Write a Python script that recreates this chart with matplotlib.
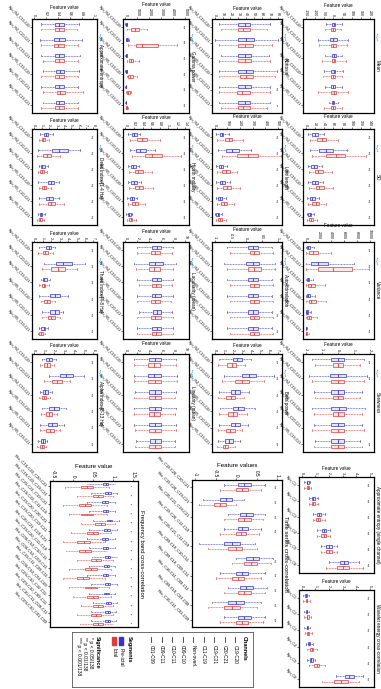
import matplotlib
matplotlib.use('Agg')
import matplotlib.pyplot as plt
from matplotlib.colors import to_rgba
from matplotlib.transforms import blended_transform_factory
from matplotlib.patches import Rectangle

plt.rcParams['font.family'] = ['Liberation Sans', 'DejaVu Sans']

# ---------------- data ----------------
single_labels = ['Ryu_R4_C19-C20', 'Ryu_R4_C20-C21', 'Ryu_R4_C19-C21',
                 'Ryu_R5_C19-C20', 'Ryu_R5_C20-C21', 'Ryu_R5_C19-C21']
stars6 = ['***', '***', '***', '***', '***', '***']

# box stats rows: [whisker_low, q1, median, q3, whisker_high]
apen_pre = [[0.12, 0.35, 0.42, 0.50, 0.75], [0.10, 0.34, 0.42, 0.52, 0.80], [0.12, 0.35, 0.42, 0.50, 0.78],
            [0.15, 0.36, 0.44, 0.50, 0.76], [0.12, 0.35, 0.42, 0.50, 0.74], [0.14, 0.36, 0.42, 0.50, 0.74]]
apen_ict = [[0.12, 0.35, 0.42, 0.50, 0.72], [0.12, 0.34, 0.40, 0.50, 0.74], [0.14, 0.35, 0.42, 0.50, 0.74],
            [0.12, 0.35, 0.42, 0.50, 0.74], [0.14, 0.38, 0.44, 0.52, 0.82], [0.12, 0.35, 0.42, 0.50, 0.74]]
delta_pre = [[0.8, 1.3, 1.6, 1.9, 2.5], [0.5, 2.4, 3.3, 4.5, 6.2], [0.6, 0.9, 1.1, 1.4, 1.8],
             [0.5, 1.8, 2.2, 2.6, 3.4], [0.6, 1.6, 2.0, 2.5, 3.3], [0.5, 0.7, 0.9, 1.1, 1.4]]
delta_ict = [[0.6, 1.0, 1.2, 1.5, 2.0], [0.3, 1.2, 1.7, 2.2, 3.5], [0.5, 0.8, 1.0, 1.3, 1.7],
             [0.6, 1.0, 1.3, 1.6, 2.2], [0.6, 1.8, 2.3, 2.8, 4.0], [0.4, 0.6, 0.8, 1.0, 1.3]]
theta_pre = [[0.6, 1.4, 1.7, 2.0, 2.4], [1.2, 2.6, 3.4, 4.4, 6.0], [0.8, 1.0, 1.2, 1.5, 1.9],
             [0.6, 1.8, 2.5, 3.0, 4.0], [0.9, 1.9, 2.4, 2.9, 3.4], [0.5, 0.8, 1.1, 1.3, 1.6]]
theta_ict = [[0.4, 1.0, 1.3, 1.6, 2.2], [0.9, 2.0, 2.8, 3.6, 5.0], [0.6, 0.9, 1.1, 1.3, 1.7],
             [0.8, 1.2, 1.5, 1.9, 2.4], [0.9, 1.6, 2.0, 2.5, 3.0], [0.4, 0.6, 0.8, 1.0, 1.3]]
alpha_pre = [[0.8, 1.2, 1.5, 1.8, 2.2], [1.5, 2.6, 3.2, 3.9, 5.0], [0.6, 0.9, 1.1, 1.4, 1.8],
             [0.8, 1.5, 2.0, 2.5, 3.2], [0.6, 1.4, 1.8, 2.3, 3.0], [0.4, 0.7, 0.9, 1.1, 1.3]]
alpha_ict = [[0.6, 1.0, 1.3, 1.6, 2.0], [1.0, 1.8, 2.3, 2.8, 3.6], [0.5, 0.8, 1.0, 1.2, 1.6],
             [0.7, 1.2, 1.5, 1.8, 2.3], [0.6, 1.2, 1.6, 2.0, 2.6], [0.3, 0.6, 0.8, 1.0, 1.2]]

gamma_pre = [[0, 50, 80, 110, 160], [20, 80, 130, 180, 280], [0, 40, 70, 100, 140],
             [0, 40, 70, 100, 150], [0, 20, 40, 60, 80], [0, 10, 20, 30, 40]]
gamma_ict = [[150, 500, 800, 1100, 1800], [200, 900, 1400, 2700, 4300], [100, 300, 450, 650, 1100],
             [100, 250, 400, 600, 1000], [50, 150, 250, 350, 500], [20, 60, 100, 150, 220]]
mob_pre = [[0.05, 0.15, 0.20, 0.26, 0.35], [0.10, 0.25, 0.35, 0.48, 0.70], [0.05, 0.12, 0.18, 0.24, 0.32],
           [0.05, 0.14, 0.20, 0.26, 0.36], [0.04, 0.10, 0.15, 0.20, 0.28], [0.02, 0.06, 0.09, 0.12, 0.16]]
mob_ict = [[0.10, 0.28, 0.38, 0.50, 0.80], [0.15, 0.45, 0.62, 0.85, 1.30], [0.08, 0.22, 0.30, 0.40, 0.62],
           [0.08, 0.22, 0.32, 0.42, 0.65], [0.05, 0.15, 0.22, 0.30, 0.45], [0.03, 0.08, 0.12, 0.16, 0.24]]
comp_pre = [[2.0, 4.5, 5.2, 6.0, 8.0], [1.5, 4.0, 5.0, 6.2, 8.5], [2.0, 4.5, 5.2, 6.0, 8.0],
            [2.0, 4.4, 5.0, 6.0, 8.0], [2.2, 4.6, 5.3, 6.0, 7.8], [2.0, 4.5, 5.2, 6.0, 8.0]]
comp_ict = [[2.0, 4.2, 5.0, 5.8, 7.8], [1.8, 4.0, 4.8, 5.8, 8.0], [2.2, 4.4, 5.1, 5.9, 7.8],
            [2.0, 4.2, 5.0, 5.8, 7.6], [2.0, 4.3, 5.0, 5.9, 7.9], [2.0, 4.4, 5.1, 6.0, 8.0]]
nle_pre = [[1.5, 4.0, 5.0, 6.0, 8.5], [1.5, 3.8, 4.8, 6.0, 8.6], [1.6, 4.0, 5.0, 6.0, 8.4],
           [1.5, 4.0, 5.0, 6.0, 8.5], [1.5, 4.0, 5.0, 6.0, 8.5], [1.8, 4.1, 5.0, 6.0, 8.2]]
nle_ict = [[1.5, 3.8, 4.8, 5.8, 8.4], [1.4, 3.8, 4.9, 6.0, 8.6], [1.5, 3.9, 4.9, 5.9, 8.3],
           [1.5, 3.9, 4.8, 5.8, 8.2], [1.6, 4.0, 5.0, 6.0, 8.5], [1.6, 4.0, 5.0, 6.0, 8.3]]

kurt_pre = [[5, 30, 38, 45, 70], [0, 30, 40, 50, 80], [8, 30, 38, 46, 68],
            [5, 30, 40, 48, 78], [5, 30, 38, 46, 70], [5, 30, 38, 45, 70]]
kurt_ict = [[8, 30, 36, 44, 66], [5, 30, 38, 48, 72], [5, 30, 38, 46, 70],
            [5, 32, 40, 48, 76], [5, 28, 35, 44, 70], [8, 30, 36, 44, 66]]
ll_pre = [[10, 40, 55, 70, 110], [30, 90, 140, 190, 290], [10, 35, 50, 65, 100],
          [15, 45, 60, 80, 120], [10, 30, 45, 60, 90], [5, 15, 25, 35, 55]]
ll_ict = [[20, 80, 110, 140, 220], [60, 180, 260, 340, 520], [20, 60, 90, 120, 180],
          [20, 70, 100, 130, 200], [20, 50, 75, 100, 150], [10, 30, 45, 60, 90]]
ac_pre = [[-0.6, 0.05, 0.2, 0.35, 0.8], [-0.7, 0.0, 0.2, 0.4, 0.9], [-0.6, 0.05, 0.2, 0.35, 0.8],
          [-0.6, 0.05, 0.2, 0.35, 0.8], [-0.6, 0.05, 0.2, 0.35, 0.8], [-0.6, 0.05, 0.2, 0.35, 0.8]]
ac_ict = [[-0.5, 0.1, 0.25, 0.4, 0.85], [-0.6, 0.05, 0.25, 0.45, 0.9], [-0.5, 0.1, 0.25, 0.4, 0.85],
          [-0.5, 0.1, 0.25, 0.4, 0.85], [-0.5, 0.1, 0.25, 0.4, 0.85], [-0.5, 0.1, 0.25, 0.4, 0.85]]
beta_pre = [[0.5, 2.0, 2.5, 3.0, 4.0], [1.0, 3.0, 3.8, 4.6, 6.5], [0.5, 1.8, 2.3, 2.8, 3.8],
            [0.6, 2.0, 2.6, 3.2, 4.4], [0.5, 1.8, 2.3, 2.8, 3.7], [0.4, 1.2, 1.6, 2.0, 2.8]]
beta_ict = [[0.4, 1.4, 1.9, 2.4, 3.4], [0.8, 2.2, 3.0, 3.8, 5.4], [0.4, 1.3, 1.8, 2.3, 3.2],
            [0.5, 1.5, 2.0, 2.5, 3.6], [0.4, 1.3, 1.7, 2.2, 3.0], [0.3, 0.9, 1.2, 1.5, 2.2]]

mean_pre = [[-40, -8, 2, 12, 45], [-85, -20, 0, 20, 80], [-45, -8, 3, 15, 50],
            [-50, -10, 2, 12, 55], [-45, -10, 0, 10, 45], [-25, -6, 0, 6, 25]]
mean_ict = [[-45, -10, 0, 8, 40], [-75, -12, 0, 15, 75], [-60, -8, 2, 12, 70],
            [-55, -10, 0, 10, 50], [-80, -12, 2, 15, 80], [-50, -10, -2, 10, 45]]
std_pre = [[5, 15, 20, 26, 40], [10, 30, 45, 60, 90], [5, 12, 18, 24, 35],
           [5, 14, 20, 26, 38], [4, 10, 15, 20, 30], [2, 6, 9, 12, 18]]
std_ict = [[10, 25, 35, 45, 70], [15, 45, 65, 85, 130], [8, 20, 28, 38, 58],
           [8, 22, 30, 40, 60], [6, 15, 22, 30, 45], [3, 8, 12, 16, 24]]
var_pre = [[10, 200, 400, 650, 1300], [50, 800, 2000, 3500, 7500], [10, 150, 320, 550, 1100],
           [10, 200, 400, 700, 1400], [10, 100, 220, 400, 800], [5, 40, 80, 140, 280]]
var_ict = [[50, 600, 1200, 2000, 4000], [100, 2000, 4200, 7200, 9800], [40, 400, 800, 1400, 3000],
           [40, 500, 900, 1600, 3200], [20, 250, 500, 900, 1800], [10, 60, 140, 250, 500]]
skew_pre = [[-1.6, -0.4, 0.0, 0.4, 1.6], [-1.8, -0.5, 0.0, 0.5, 1.8], [-1.5, -0.4, 0.0, 0.4, 1.5],
            [-1.6, -0.4, 0.1, 0.5, 1.7], [-1.5, -0.4, 0.0, 0.4, 1.5], [-1.4, -0.4, 0.0, 0.4, 1.4]]
skew_ict = [[-1.4, -0.3, 0.0, 0.3, 1.4], [-1.6, -0.4, 0.0, 0.4, 1.6], [-1.4, -0.3, 0.0, 0.3, 1.4],
            [-1.5, -0.3, 0.0, 0.4, 1.5], [-1.6, -0.4, 0.0, 0.4, 1.6], [-1.5, -0.4, 0.0, 0.4, 1.5]]

fb_labels = ['Rcx_C19-C20_C20-C21', 'Rcx_C19-C20_C19-C21', 'Rcx_C20-C21_C19-C21', 'Rcx_C19-C20_C11-C19',
             'Scx_C19-C20_C20-C21', 'Scx_C19-C20_C19-C21', 'Scx_C20-C21_C19-C21', 'Scx_C19-C20_C11-C19',
             'Rcx_C09-C10_C10-C11', 'Rcx_C09-C10_C09-C11', 'Rcx_C10-C11_C09-C11', 'Rcx_C09-C10_C01-C09',
             'Scx_C09-C10_C10-C11', 'Scx_C09-C10_C09-C11', 'Scx_C10-C11_C09-C11', 'Scx_C09-C10_C01-C09']
fb_pre = [[0.35, 0.75, 0.82, 0.88, 1.05], [0.45, 0.8, 0.88, 0.94, 1.1], [0.35, 0.72, 0.8, 0.87, 1.05],
          [0.4, 0.75, 0.82, 0.88, 1.05], [0.5, 0.85, 0.92, 0.98, 1.15], [0.4, 0.78, 0.85, 0.92, 1.1],
          [0.35, 0.72, 0.8, 0.87, 1.05], [0.4, 0.74, 0.82, 0.88, 1.05], [0.45, 0.8, 0.87, 0.93, 1.1],
          [0.4, 0.76, 0.84, 0.9, 1.05], [0.35, 0.74, 0.82, 0.88, 1.05], [0.45, 0.8, 0.87, 0.93, 1.1],
          [0.4, 0.76, 0.83, 0.9, 1.05], [0.5, 0.82, 0.88, 0.94, 1.1], [0.45, 0.8, 0.86, 0.92, 1.08],
          [0.45, 0.8, 0.86, 0.92, 1.08]]
fb_ict = [[-0.2, 0.2, 0.35, 0.5, 0.9], [0.1, 0.5, 0.62, 0.75, 1.0], [-0.25, 0.15, 0.3, 0.45, 0.85],
          [-0.1, 0.2, 0.35, 0.5, 0.85], [0.2, 0.55, 0.7, 0.8, 1.05], [-0.05, 0.35, 0.5, 0.62, 0.95],
          [-0.25, 0.1, 0.28, 0.42, 0.8], [-0.2, 0.15, 0.3, 0.45, 0.85], [0.1, 0.45, 0.58, 0.7, 1.0],
          [-0.1, 0.3, 0.45, 0.6, 0.95], [-0.25, 0.1, 0.25, 0.4, 0.8], [-0.1, 0.3, 0.45, 0.6, 0.9],
          [0.0, 0.35, 0.5, 0.62, 0.95], [0.2, 0.5, 0.62, 0.74, 1.0], [0.1, 0.45, 0.58, 0.7, 1.0],
          [0.15, 0.5, 0.62, 0.74, 1.0]]
fb_stars = ['*', '*', '*', '*', '*', '*', '*', '*', '*', '*', '*', '*', '*', '*', '*', '*']

ts_labels = ['Rxx_C19-C20_C20-C21', 'Rxx_C19-C20_C19-C21', 'Rxx_C20-C21_C19-C21', 'Rxx_C19-C20_C11-C19',
             'Rxx_C20-C21_C11-C19', 'Rxx_C09-C10_C10-C11', 'Rxx_C09-C10_C09-C11', 'Rxx_C10-C11_C09-C11',
             'Rxx_C09-C10_C01-C09', 'Rxx_C10-C11_C01-C09']
ts_pre = [[-0.3, 0.05, 0.2, 0.35, 0.7], [-0.8, -0.4, -0.25, -0.1, 0.2], [-0.2, 0.1, 0.25, 0.4, 0.7],
          [-0.3, 0.05, 0.15, 0.3, 0.6], [-0.9, -0.3, -0.1, 0.1, 0.45], [0.0, 0.25, 0.4, 0.55, 0.9],
          [-0.4, 0.0, 0.15, 0.3, 0.7], [-0.2, 0.1, 0.25, 0.4, 0.75], [-0.6, -0.2, 0.0, 0.2, 0.6],
          [-0.3, 0.05, 0.2, 0.35, 0.7]]
ts_ict = [[-0.4, 0.0, 0.15, 0.3, 0.6], [-0.9, -0.55, -0.4, -0.25, 0.0], [-0.3, 0.05, 0.2, 0.35, 0.65],
          [-0.4, 0.0, 0.12, 0.25, 0.55], [-0.7, -0.2, 0.0, 0.15, 0.5], [-0.1, 0.2, 0.35, 0.5, 0.85],
          [-0.5, -0.1, 0.05, 0.2, 0.6], [-0.3, 0.05, 0.2, 0.35, 0.7], [-0.7, -0.3, -0.1, 0.1, 0.5],
          [-0.4, 0.0, 0.15, 0.3, 0.65]]
ts_stars = ['***', '***', '***', '***', '', '***', '***', '***', '***', '***']

short_labels = ['Ryu_C1', 'Ryu_C2', 'Ryu_C3', 'Ryu_C4', 'Ryu_C5', 'Ryu_C6']
apsc_pre = [[0.2, 0.35, 0.42, 0.5, 0.62], [0.5, 0.75, 0.85, 0.95, 1.2], [0.8, 1.1, 1.25, 1.4, 1.7],
            [1.1, 1.45, 1.6, 1.75, 2.1], [1.4, 1.8, 2.0, 2.2, 2.6], [2.0, 2.8, 3.1, 3.4, 4.2]]
apsc_ict = [[0.2, 0.35, 0.45, 0.52, 0.65], [0.5, 0.75, 0.85, 0.98, 1.2], [0.8, 1.05, 1.2, 1.35, 1.7],
            [1.1, 1.4, 1.6, 1.75, 2.1], [1.4, 1.8, 2.0, 2.2, 2.6], [1.8, 2.6, 3.0, 3.5, 4.5]]
wv_pre = [[0.1, 0.25, 0.3, 0.36, 0.5], [0.15, 0.3, 0.35, 0.42, 0.55], [0.2, 0.35, 0.4, 0.47, 0.6],
          [0.3, 0.45, 0.55, 0.62, 0.8], [0.4, 0.6, 0.7, 0.8, 1.0], [2.5, 3.2, 3.5, 3.8, 4.5]]
wv_ict = [[0.1, 0.28, 0.35, 0.42, 0.6], [0.2, 0.35, 0.42, 0.5, 0.7], [0.25, 0.4, 0.48, 0.56, 0.75],
          [0.4, 0.6, 0.72, 0.85, 1.1], [0.5, 0.9, 1.1, 1.3, 1.7], [1.5, 2.4, 2.9, 3.4, 4.2]]

legend_channels = ['C19-C20', 'C20-C21', 'C19-C21', 'C11-C19', 'Non-overl.',
                   'C09-C10', 'C10-C11', 'C09-C11', 'C01-C09']
legend_segments = ['Pre-ictal', 'Ictal']
legend_sig = ['* p < 0.05/138', '** p < 0.01/138', '*** p < 0.001/138']

# ---------------- drawing ----------------
W, H = 381, 689
fig = plt.figure(figsize=(3.81, 6.89), dpi=100)
BLUE = '#3434d4'
RED = '#e23b3b'
BRACE = '#45a7d9'


def rect(x0, y0, x1, y1):
    return [x0 / W, 1 - y1 / H, (x1 - x0) / W, (y1 - y0) / H]


def stats(row):
    lo, q1, med, q3, hi = row
    return dict(whislo=lo, q1=q1, med=med, q3=q3, whishi=hi, fliers=[])


def panel(r, labels, pre, ict, title, xticks, stars, xlab='Feature value',
          fs=2.6, lab_fs=2.6, title_fs=3.3, brace=True, lw_frame=0.9, xlab_fs=3.3):
    ax = fig.add_axes(rect(*r))
    n = len(labels)
    off = 0.17
    for data, c, sgn in ((pre, BLUE, -1), (ict, RED, 1)):
        ax.bxp([stats(d) for d in data], positions=[i + sgn * off for i in range(n)],
               orientation='horizontal', widths=0.2, patch_artist=True, showfliers=False,
               boxprops=dict(facecolor=to_rgba(c, 0.12), edgecolor=c, linewidth=0.5),
               whiskerprops=dict(color=c, linewidth=0.45, linestyle=(0, (1.5, 1))),
               capprops=dict(color=c, linewidth=0.45),
               medianprops=dict(color=c, linewidth=0.6))
    ax.set_ylim(n - 0.5, -0.5)
    ax.set_yticks(range(n))
    ax.set_yticklabels(labels, rotation=-45, ha='right', rotation_mode='anchor', fontsize=lab_fs)
    ax.xaxis.tick_top()
    ax.xaxis.set_label_position('top')
    ax.set_xlabel(xlab, fontsize=xlab_fs, labelpad=1.0)
    ax.set_xticks(xticks)
    ax.set_xticklabels([f'{t:g}' for t in xticks], rotation=270, fontsize=fs)
    span = xticks[-1] - xticks[0]
    ax.set_xlim(xticks[0] - 0.04 * span, xticks[-1] + 0.06 * span)
    ax.tick_params(length=1.5, width=0.4, pad=0.8)
    for s in ax.spines.values():
        s.set_linewidth(lw_frame)
    ax.text(1.012, 0.5, title, rotation=270, transform=ax.transAxes, va='center', ha='left',
            fontsize=title_fs)
    tr = blended_transform_factory(ax.transAxes, ax.transData)
    for i, s in enumerate(stars):
        if s:
            ax.text(0.9, i, s, transform=tr, rotation=270, fontsize=2.6, va='center', ha='center')
    if brace:
        ax.text(1.03, 0.8, '{', transform=ax.transAxes, color=BRACE, fontsize=5,
                va='center', ha='left')
    return ax


cols = [(32, 97), (123, 189), (212, 282), (303, 374)]
rows = [(19, 113), (129, 225), (242, 339), (354, 452)]

panel((cols[0][0], rows[0][0], cols[0][1], rows[0][1]), single_labels, apen_pre, apen_ict,
      'Approximate entropy', [0, 0.2, 0.4, 0.6, 0.8, 1.0], ['', '', '', '', '', ''])
panel((cols[0][0], rows[1][0], cols[0][1], rows[1][1]), single_labels, delta_pre, delta_ict,
      'Delta index [1-4 Hz]', [0, 1, 2, 3, 4, 5, 6, 7, 8], stars6)
panel((cols[0][0], rows[2][0], cols[0][1], rows[2][1]), single_labels, theta_pre, theta_ict,
      'Theta index [4-8 Hz]', [0, 1, 2, 3, 4, 5, 6, 7], stars6)
panel((cols[0][0], rows[3][0], cols[0][1], rows[3][1]), single_labels, alpha_pre, alpha_ict,
      'Alpha index [8-13 Hz]', [0, 1, 2, 3, 4, 5, 6], stars6)

panel((cols[1][0], rows[0][0], cols[1][1], rows[0][1]), single_labels, gamma_pre, gamma_ict,
      'Gamma power', [0, 1000, 2000, 3000, 4000, 5000], stars6)
panel((cols[1][0], rows[1][0], cols[1][1], rows[1][1]), single_labels, mob_pre, mob_ict,
      'Hjorth mobility', [0, 0.2, 0.4, 0.6, 0.8, 1.0, 1.2, 1.4], stars6)
panel((cols[1][0], rows[2][0], cols[1][1], rows[2][1]), single_labels, comp_pre, comp_ict,
      'Lacunarity (mean)', [0, 2, 4, 6, 8, 10], ['', '', '', '', '', ''])
panel((cols[1][0], rows[3][0], cols[1][1], rows[3][1]), single_labels, nle_pre, nle_ict,
      'Linearity (mean)', [0, 2, 4, 6, 8, 10], ['', '', '', '', '', ''])

panel((cols[2][0], rows[0][0], cols[2][1], rows[0][1]), single_labels, kurt_pre, kurt_ict,
      'Kurtosis', [0, 10, 20, 30, 40, 50, 60, 70, 80], ['', '', '', '', '***', '**'])
panel((cols[2][0], rows[1][0], cols[2][1], rows[1][1]), single_labels, ll_pre, ll_ict,
      'Line length', [0, 100, 200, 300, 400, 500], stars6)
panel((cols[2][0], rows[2][0], cols[2][1], rows[2][1]), single_labels, ac_pre, ac_ict,
      'Auto-correlation', [-1, -0.5, 0, 0.5, 1], ['', '', '', '', '***', '***'])
panel((cols[2][0], rows[3][0], cols[2][1], rows[3][1]), single_labels, beta_pre, beta_ict,
      'Beta power', [0, 1, 2, 3, 4, 5, 6, 7], stars6)

panel((cols[3][0], rows[0][0], cols[3][1], rows[0][1]), single_labels, mean_pre, mean_ict,
      'Mean', [-150, -100, -50, 0, 50, 100, 150, 200], ['', '', '', '', '', ''])
panel((cols[3][0], rows[1][0], cols[3][1], rows[1][1]), single_labels, std_pre, std_ict,
      'SD', [0, 20, 40, 60, 80, 100, 120, 140], stars6)
panel((cols[3][0], rows[2][0], cols[3][1], rows[2][1]), single_labels, var_pre, var_ict,
      'Variance', [0, 2000, 4000, 6000, 8000, 10000], stars6)
panel((cols[3][0], rows[3][0], cols[3][1], rows[3][1]), single_labels, skew_pre, skew_ict,
      'Skewness', [-2, -1, 0, 1, 2], ['***', '***', '', '', '', '***'])

panel((50, 481, 138, 627), fb_labels, fb_pre, fb_ict, 'Frequency band cross-correlation',
      [-0.5, 0, 0.5, 1, 1.5], fb_stars, fs=3.4, lab_fs=3.0, title_fs=4.2, brace=False, xlab_fs=4.4)
panel((192, 480, 282, 627), ts_labels, ts_pre, ts_ict, 'Time series cross-correlation',
      [-1, -0.5, 0, 0.5, 1], ts_stars, xlab='Feature values', fs=3.4, lab_fs=2.9,
      title_fs=4.2, brace=False, xlab_fs=4.4)
panel((299, 477, 374, 573), short_labels, apsc_pre, apsc_ict,
      'Approximate entropy (single channel)', [0, 1, 2, 3, 4, 5], stars6, brace=False)
panel((299, 590, 374, 687), short_labels, wv_pre, wv_ict,
      'Wavelet energy cross-correlation', [0, 1, 2, 3, 4, 5], stars6, brace=False)

# ---------------- legend (rotated) ----------------
lax = fig.add_axes(rect(72, 632, 253, 687))
lax.set_xlim(72, 253)
lax.set_ylim(687, 632)
lax.set_xticks([])
lax.set_yticks([])
for s in lax.spines.values():
    s.set_linewidth(0.6)
    s.set_color('#555555')
lax.text(244, 636, 'Channels', rotation=270, fontsize=4.0, fontweight='bold', va='top', ha='center')
for k, lab in enumerate(legend_channels):
    xx = 235 - k * 10.5
    lax.plot([xx, xx], [637, 642], color='#333333', lw=0.6)
    lax.text(xx, 645, lab, rotation=270, fontsize=3.4, va='top', ha='center')
lax.text(129, 636, 'Segments', rotation=270, fontsize=4.0, fontweight='bold', va='top', ha='center')
for xx, c, lab in zip((121, 114), (BLUE, RED), legend_segments):
    lax.add_patch(Rectangle((xx - 2, 637), 4, 8, facecolor=c, edgecolor=c))
    lax.text(xx, 648, lab, rotation=270, fontsize=3.6, va='top', ha='center')
lax.text(97, 636, 'Significance', rotation=270, fontsize=4.0, fontweight='bold', va='top', ha='center')
for k, lab in enumerate(legend_sig):
    lax.text(90 - k * 5.5, 637, lab, rotation=270, fontsize=3.6, va='top', ha='center')

fig.savefig('out.png', dpi=100)
